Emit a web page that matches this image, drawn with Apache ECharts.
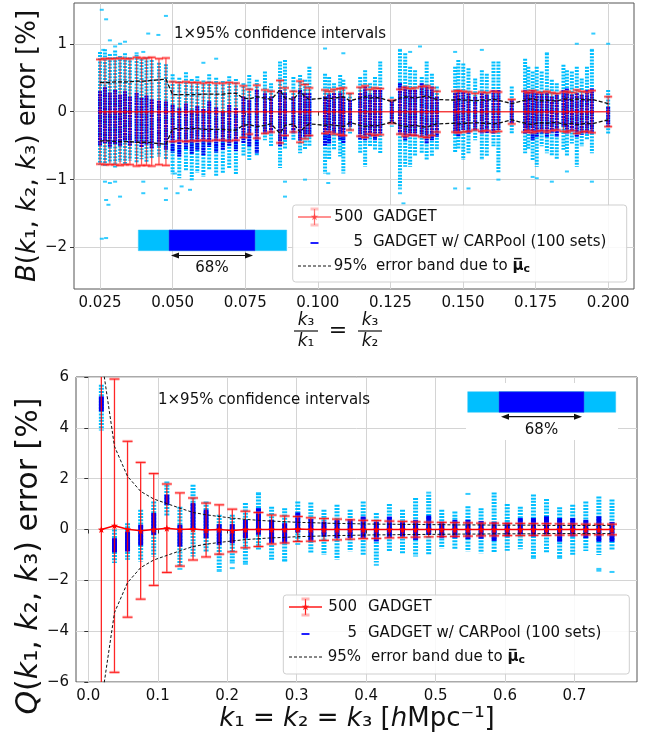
<!DOCTYPE html>
<html><head><meta charset="utf-8">
<script src="https://cdn.jsdelivr.net/npm/echarts@6/dist/echarts.min.js"></script>
<style>html,body{margin:0;padding:0;background:#fff}#c{width:649px;height:739px}</style>
</head><body><div id="c"></div>
<script>
// ---------------- TOP PANEL DATA (B error, %) ----------------
const topX = [0.0250,0.0267,0.0284,0.0302,0.0319,0.0336,0.0353,0.0376,0.0393,0.0410,0.0428,0.0453,0.0477,
 0.0500,0.0523,0.0546,0.0566,0.0585,0.0606,0.0626,0.0650,0.0673,0.0695,0.0718,
 0.0744,0.0764,0.0790,0.0818,0.0839,0.0870,0.0887,0.0916,0.0939,0.0956,0.0971,
 0.1025,0.1039,0.1056,0.1077,0.1088,0.1111,0.1146,0.1163,0.1180,0.1197,0.1215,0.1255,
 0.1283,0.1301,0.1318,0.1335,0.1358,0.1375,0.1393,0.1410,
 0.1473,0.1484,0.1501,0.1519,0.1542,0.1565,0.1582,0.1605,0.1622,0.1668,
 0.1714,0.1725,0.1740,0.1754,0.1771,0.1789,0.1806,0.1823,0.1846,0.1858,0.1875,0.1892,0.1909,0.1927,0.1944,0.2000];
const topHi95 = [0.88,0.92,0.85,0.90,0.82,0.86,0.80,0.84,0.78,0.80,0.76,0.72,0.70,
 0.55,0.50,0.58,0.48,0.52,0.46,0.55,0.50,0.45,0.52,0.48,
 0.42,0.54,0.47,0.59,0.42,0.74,0.76,0.51,0.54,0.47,0.66,
 0.56,0.51,0.42,0.54,0.47,0.27,0.51,0.61,0.42,0.51,0.74,0.22,
 0.91,0.86,0.66,0.61,0.51,0.74,0.56,0.37,
 0.66,0.76,0.71,0.64,0.49,0.61,0.56,0.74,0.74,0.37,
 0.78,0.66,0.59,0.66,0.59,0.86,0.47,0.42,0.69,0.61,0.59,0.66,0.49,0.66,0.91,0.32];
const topLo95 = [-0.78,-0.80,-0.76,-0.82,-0.74,-0.78,-0.72,-0.76,-0.70,-0.74,-0.68,-0.66,-0.70,
 -0.92,-0.98,-0.88,-1.02,-0.90,-0.96,-0.86,-0.95,-0.90,-0.84,-0.92,
 -0.66,-0.71,-0.66,-0.42,-0.51,-0.83,-0.56,-0.42,-0.61,-0.56,-0.51,
 -0.91,-0.71,-0.56,-0.66,-0.91,-0.32,-0.61,-0.81,-0.51,-0.56,-0.61,-0.22,
 -1.10,-0.81,-0.81,-0.66,-0.61,-0.71,-0.66,-0.56,
 -0.61,-0.56,-0.71,-0.61,-0.42,-0.71,-0.66,-0.51,-0.91,-0.32,
 -0.61,-0.56,-0.71,-0.81,-0.51,-0.61,-0.66,-0.71,-0.56,-0.66,-0.47,-0.81,-0.51,-0.42,-0.61,-0.32];
const topHi68 = [0.30,0.36,0.28,0.32,0.25,0.30,0.22,0.28,0.20,0.24,0.18,0.16,0.15,
 0.10,0.05,0.12,0.02,0.08,0.04,0.15,0.06,0.00,0.10,0.05,
 0.22,0.17,0.32,0.27,0.22,0.32,0.27,0.22,0.32,0.27,0.27,
 0.22,0.25,0.27,0.27,0.22,0.17,0.27,0.37,0.25,0.32,0.32,0.15,
 0.42,0.37,0.32,0.32,0.42,0.37,0.37,0.22,
 0.27,0.32,0.29,0.27,0.22,0.27,0.25,0.32,0.32,0.17,
 0.32,0.29,0.32,0.27,0.27,0.27,0.22,0.25,0.32,0.34,0.25,0.27,0.25,0.32,0.34,0.07];
const topLo68 = [-0.50,-0.46,-0.52,-0.48,-0.50,-0.44,-0.50,-0.46,-0.52,-0.48,-0.54,-0.50,-0.56,
 -0.60,-0.66,-0.55,-0.62,-0.58,-0.64,-0.52,-0.60,-0.56,-0.50,-0.58,
 -0.47,-0.51,-0.61,-0.32,-0.32,-0.51,-0.42,-0.32,-0.42,-0.37,-0.37,
 -0.51,-0.47,-0.32,-0.42,-0.47,-0.22,-0.42,-0.42,-0.37,-0.42,-0.32,-0.15,
 -0.32,-0.42,-0.37,-0.37,-0.37,-0.47,-0.42,-0.37,
 -0.32,-0.37,-0.27,-0.32,-0.27,-0.32,-0.32,-0.32,-0.27,-0.17,
 -0.32,-0.32,-0.42,-0.37,-0.32,-0.37,-0.32,-0.37,-0.22,-0.32,-0.29,-0.37,-0.34,-0.32,-0.32,-0.22];
const topMean = [0,0,0,0,0,0,0,0,0,0,0,0,0, 0,0,0,0,0,0,0,0,0,0,0, 0,0,0,0,0,0,0,0,0,0,0,
 0,0,0,0,0,0,0,0,0,0,0,0, 0,0,0,0,0,0,0,0, 0,0,0,0,0,0,0,0,0,0, 0,0,0,0,0,0,0,0,0,0,0,0,0,0,0,0];
const topErr = [0.77,0.78,0.78,0.78,0.79,0.78,0.78,0.80,0.79,0.79,0.80,0.78,0.79,
 0.44,0.43,0.44,0.43,0.43,0.42,0.43,0.42,0.42,0.43,0.42,
 0.38,0.33,0.39,0.32,0.30,0.46,0.35,0.30,0.45,0.40,0.35,
 0.32,0.30,0.33,0.34,0.35,0.27,0.36,0.38,0.33,0.35,0.34,0.17,
 0.33,0.36,0.34,0.35,0.37,0.38,0.35,0.30,
 0.30,0.31,0.30,0.29,0.27,0.29,0.28,0.30,0.29,0.18,
 0.30,0.28,0.31,0.29,0.28,0.30,0.28,0.27,0.29,0.30,0.28,0.32,0.30,0.29,0.31,0.22];
const topBand = [0.43,0.43,0.43,0.44,0.44,0.44,0.44,0.45,0.45,0.45,0.46,0.47,0.48,
 0.25,0.25,0.25,0.25,0.25,0.26,0.26,0.26,0.26,0.27,0.27,
 0.20,0.19,0.22,0.20,0.18,0.32,0.20,0.18,0.30,0.22,0.18,
 0.20,0.19,0.20,0.21,0.22,0.16,0.20,0.22,0.20,0.21,0.20,0.15,
 0.20,0.22,0.21,0.20,0.22,0.23,0.20,0.18,
 0.17,0.18,0.17,0.17,0.16,0.17,0.17,0.18,0.17,0.12,
 0.17,0.18,0.19,0.17,0.16,0.17,0.16,0.16,0.18,0.19,0.17,0.19,0.18,0.17,0.18,0.12];
const topOutX = [0.0256,0.0271,0.0477,0.0451,0.0416,0.0336,0.0302,0.0261,0.0399,0.0376,0.0284,0.0319,
 0.0267,0.0284,0.0302,0.0399,0.0271,0.0279,0.0319,0.0399,0.0477,0.0477,0.0271,0.0256,0.0508,0.0517,0.0531,0.0560,
 0.1025,0.1036,0.1036,0.1283,0.1318,0.1283,0.1295,0.0956,0.0887,0.0887,0.1088,0.1352,0.1283,
 0.1949,0.2000,0.1892,0.1944,0.1565,0.1473,0.1789,0.1473,0.1519,0.1740,0.1806,0.1944,0.1622,0.1858,0.1754,0.0650,0.0606];
const topOutY = [1.50,1.36,1.41,1.13,1.15,1.03,0.96,0.91,0.88,0.86,1.05,1.00,
 -1.03,-1.05,-1.03,-1.03,-1.30,-1.37,-1.25,-1.20,-1.13,-1.30,-1.86,-1.87,-0.91,-1.20,-1.10,-1.15,
 0.93,-0.91,-1.05,0.91,0.88,-1.13,-1.35,-1.00,-1.03,-1.25,0.86,0.96,-1.20,
 1.15,1.00,1.00,0.91,0.91,0.88,0.86,-1.13,-1.13,-0.96,-1.03,-1.03,-1.00,-0.88,-0.98,0.78,0.72];
const topTicksX = [0.025,0.050,0.075,0.100,0.125,0.150,0.175,0.200];
const topTicksY = [-2,-1,0,1];

// ---------------- BOTTOM PANEL DATA (Q error, %) ----------------
const botK = [0.0188,0.0377,0.0565,0.0754,0.0942,0.1131,0.1319,0.1508,0.1696,0.1885,0.2073,0.2262,0.2450,0.2639,0.2827,0.3016,0.3204,0.3393,0.3581,0.3770,
 0.3958,0.4147,0.4335,0.4524,0.4712,0.4901,0.5089,0.5278,0.5466,0.5655,0.5843,0.6032,0.6220,0.6409,0.6597,0.6786,0.6974,0.7163,0.7351,0.7540];
const botHi95 = [5.70,0.00,0.25,0.78,1.10,1.89,0.90,1.76,1.10,0.58,0.58,1.04,1.43,0.90,0.84,1.10,1.06,0.78,0.97,0.78,
 1.10,0.65,1.00,0.78,1.24,1.37,0.78,0.71,0.91,0.84,1.46,1.00,0.90,1.38,1.20,0.88,0.97,1.10,1.30,1.18];
const botLo95 = [3.90,-1.32,-1.19,-1.26,-1.06,0.51,-1.46,-1.06,-0.87,-1.59,-1.26,-1.32,-0.80,-1.19,-1.26,-0.60,-0.93,-1.00,-1.19,-0.87,
 -1.00,-1.30,-0.87,-0.93,-1.06,-1.00,-0.74,-0.80,-0.87,-0.93,-0.90,-0.84,-0.78,-1.10,-0.93,-1.10,-1.00,-0.85,-1.00,-0.80];
const botHi68 = [5.24,-0.34,-0.08,0.19,0.65,1.37,0.19,1.04,0.78,0.21,0.21,0.38,0.84,0.38,0.25,0.67,0.42,0.31,0.38,0.40,
 0.51,0.31,0.51,0.31,0.38,0.55,0.31,0.38,0.38,0.34,0.30,0.28,0.45,0.45,0.52,0.45,0.45,0.38,0.52,0.30];
const botLo68 = [4.65,-0.90,-0.87,-0.63,-0.21,0.97,-0.67,-0.01,-0.34,-0.60,-0.54,-0.34,-0.21,-0.54,-0.54,-0.12,-0.45,-0.28,-0.34,-0.34,
 -0.34,-0.47,-0.34,-0.28,-0.41,-0.21,-0.34,-0.34,-0.38,-0.36,-0.45,-0.28,-0.20,-0.28,-0.20,-0.48,-0.28,-0.34,-0.48,-0.48];
const botMean = [0.00,0.15,0.01,-0.05,0.00,0.05,0.00,0.02,-0.02,0.00,-0.04,0.00,0.00,0.00,0.00,0.02,0.00,0.00,0.00,0.00,
 0.00,0.00,0.00,0.00,0.00,0.00,0.00,0.00,0.00,0.00,0.00,0.00,0.00,0.00,0.00,0.00,0.00,0.00,0.00,0.00];
const botErr = [9.0,5.77,3.46,2.69,2.20,1.74,1.44,1.22,1.06,0.97,0.84,0.72,0.67,0.57,0.53,0.49,0.46,0.43,0.41,0.38,
 0.36,0.35,0.33,0.32,0.30,0.29,0.28,0.27,0.26,0.25,0.25,0.24,0.24,0.23,0.23,0.22,0.22,0.21,0.21,0.21];
const botBand = [6.8,3.27,2.09,1.50,1.20,1.02,0.84,0.67,0.58,0.51,0.45,0.40,0.36,0.33,0.31,0.28,0.27,0.25,0.24,0.23,
 0.22,0.21,0.21,0.20,0.20,0.19,0.19,0.18,0.18,0.18,0.17,0.17,0.17,0.17,0.16,0.16,0.16,0.16,0.16,0.16];
const botOutX = [0.2073,0.1885,0.2262,0.2827,0.4147,0.7351,0.7351,0.7540,0.6409,0.6786,0.4901,0.5466,0.2450,0.1319,0.2073];
const botOutY = [-1.52,-1.63,-1.35,-1.22,-1.39,-1.55,-1.62,-1.67,-1.12,-1.12,1.45,1.40,1.43,-1.55,-1.30];
const botTicksX = [0.0,0.1,0.2,0.3,0.4,0.5,0.6,0.7];
const botTicksY = [-6,-4,-2,0,2,4,6];

// ---------------- RENDERING ----------------
const FONT = 'DejaVu Sans';
const LIGHT = '#00bfff', DARK = '#0000f0';
const chart = echarts.init(document.getElementById('c'));
const fmtMinus = s => String(s).replace('-', '\u2212');

function colItem(color, w, dash) {
  return function (params, api) {
    const x = api.value(0);
    const a = api.coord([x, api.value(2)]), b = api.coord([x, api.value(1)]);
    return {type: 'line', shape: {x1: a[0], y1: a[1], x2: b[0], y2: b[1]},
      style: {stroke: color, lineWidth: w, lineDash: dash || null}};
  };
}
function errItem(capW, lineColor, capColor, lw) {
  return function (params, api) {
    const x = api.value(0), m = api.value(1), e = api.value(2);
    const a = api.coord([x, m + e]), b = api.coord([x, m - e]);
    const h = capW / 2;
    return {type: 'group', children: [
      {type: 'line', shape: {x1: a[0], y1: a[1], x2: b[0], y2: b[1]}, style: {stroke: lineColor, lineWidth: lw}},
      {type: 'line', shape: {x1: a[0] - h, y1: a[1], x2: a[0] + h, y2: a[1]}, style: {stroke: capColor, lineWidth: 3}},
      {type: 'line', shape: {x1: b[0] - h, y1: b[1], x2: b[0] + h, y2: b[1]}, style: {stroke: capColor, lineWidth: 3}},
      {type: 'line', shape: {x1: a[0] - h, y1: a[1], x2: a[0] + h, y2: a[1]}, style: {stroke: lineColor, lineWidth: 1}},
      {type: 'line', shape: {x1: b[0] - h, y1: b[1], x2: b[0] + h, y2: b[1]}, style: {stroke: lineColor, lineWidth: 1}}
    ]};
  };
}
const STAR = 'path://M0,-10L2.35,-3.24L9.51,-3.09L3.8,1.24L5.88,8.09L0,4L-5.88,8.09L-3.8,1.24L-9.51,-3.09L-2.35,-3.24Z';

function axisX(grid, min, max, ticks, dec) {
  return {type: 'value', gridIndex: grid, min: min, max: max,
    axisLine: {show: false},
    axisTick: {show: true, length: 4, customValues: ticks, lineStyle: {color: '#333'}},
    axisLabel: {customValues: ticks, formatter: v => v.toFixed(dec), fontFamily: FONT, fontSize: 15, color: '#111', margin: 7},
    splitLine: {show: true, lineStyle: {color: '#d4d4d4', width: 1}}};
}
function axisY(grid, min, max, ticks) {
  return {type: 'value', gridIndex: grid, min: min, max: max,
    axisLine: {show: false},
    axisTick: {show: true, length: 4, customValues: ticks, lineStyle: {color: '#333'}},
    axisLabel: {customValues: ticks, formatter: v => fmtMinus(v), fontFamily: FONT, fontSize: 15, color: '#111', margin: 7},
    splitLine: {show: true, lineStyle: {color: '#d4d4d4', width: 1}}};
}

const zip3 = (x, a, b) => x.map((v, i) => [v, a[i], b[i]]);

const series = [
  // top
  {type: 'custom', xAxisIndex: 0, yAxisIndex: 0, clip: true, z: 2, renderItem: colItem(LIGHT, 4, [2, 1.2]), data: zip3(topX, topLo95, topHi95), encode: {x: 0, y: [1, 2]}},
  {type: 'scatter', xAxisIndex: 0, yAxisIndex: 0, z: 2, symbol: 'rect', symbolSize: [4, 2], itemStyle: {color: LIGHT}, data: topOutX.map((v, i) => [v, topOutY[i]])},
  {type: 'custom', xAxisIndex: 0, yAxisIndex: 0, clip: true, z: 3, renderItem: colItem(DARK, 4, [2, 0.6]), data: zip3(topX, topLo68, topHi68), encode: {x: 0, y: [1, 2]}},
  {type: 'custom', xAxisIndex: 0, yAxisIndex: 0, clip: true, z: 4, renderItem: errItem(8, 'rgba(255,0,0,0.65)', 'rgba(255,80,80,0.5)', 1.3), data: zip3(topX, topMean, topErr), encode: {x: 0, y: 1}},
  {type: 'line', xAxisIndex: 0, yAxisIndex: 0, z: 5, symbol: STAR, symbolSize: 5, showSymbol: true, itemStyle: {color: 'rgba(255,0,0,0.6)'}, lineStyle: {color: 'rgba(255,0,0,0.7)', width: 1.5}, data: topX.map((v, i) => [v, topMean[i]])},
  {type: 'line', xAxisIndex: 0, yAxisIndex: 0, z: 6, symbol: 'none', lineStyle: {color: '#111', width: 1.3, type: [4, 2]}, data: topX.map((v, i) => [v, topBand[i]])},
  {type: 'line', xAxisIndex: 0, yAxisIndex: 0, z: 6, symbol: 'none', lineStyle: {color: '#111', width: 1.3, type: [4, 2]}, data: topX.map((v, i) => [v, -topBand[i]])},
  // bottom
  {type: 'custom', xAxisIndex: 1, yAxisIndex: 1, clip: true, z: 2, renderItem: colItem(LIGHT, 5, [2, 1.2]), data: zip3(botK, botLo95, botHi95), encode: {x: 0, y: [1, 2]}},
  {type: 'scatter', xAxisIndex: 1, yAxisIndex: 1, z: 2, symbol: 'rect', symbolSize: [5, 2], itemStyle: {color: LIGHT}, data: botOutX.map((v, i) => [v, botOutY[i]])},
  {type: 'custom', xAxisIndex: 1, yAxisIndex: 1, clip: true, z: 3, renderItem: colItem(DARK, 5), data: zip3(botK, botLo68, botHi68), encode: {x: 0, y: [1, 2]}},
  {type: 'custom', xAxisIndex: 1, yAxisIndex: 1, clip: true, z: 4, renderItem: errItem(10, 'rgba(255,0,0,0.85)', 'rgba(255,90,90,0.45)', 1.3), data: zip3(botK, botMean, botErr), encode: {x: 0, y: 1}},
  {type: 'line', xAxisIndex: 1, yAxisIndex: 1, z: 5, symbol: STAR, symbolSize: 7, itemStyle: {color: '#ff0000'}, lineStyle: {color: '#ff0000', width: 1.5}, data: botK.map((v, i) => [v, botMean[i]])},
  {type: 'line', xAxisIndex: 1, yAxisIndex: 1, z: 6, symbol: 'none', lineStyle: {color: '#111', width: 1, type: [3, 2]}, data: botK.map((v, i) => [v, botBand[i]])},
  {type: 'line', xAxisIndex: 1, yAxisIndex: 1, z: 6, symbol: 'none', lineStyle: {color: '#111', width: 1, type: [3, 2]}, data: botK.map((v, i) => [v, -botBand[i]])}
];

// --------- decorations (text, legends, insets) ---------
const G = [];
const T = (x, y, text, o) => G.push(Object.assign({type: 'text', x: x, y: y, z: 100,
  style: Object.assign({text: text, fontFamily: FONT, fontSize: 15, fill: '#111', align: 'left', verticalAlign: 'middle'}, (o && o.style) || {})},
  o && o.rotation ? {rotation: o.rotation} : {}));
const L = (x1, y1, x2, y2, st) => G.push({type: 'line', z: 100, shape: {x1: x1, y1: y1, x2: x2, y2: y2}, style: st});
const R = (x, y, w, h, st, z) => G.push({type: 'rect', z: z || 100, shape: {x: x, y: y, width: w, height: h}, style: st});
function star(cx, cy, r, fill) {
  const pts = [];
  for (let k = 0; k < 10; k++) {
    const a = -Math.PI / 2 + k * Math.PI / 5, rr = k % 2 ? r * 0.4 : r;
    pts.push([cx + rr * Math.cos(a), cy + rr * Math.sin(a)]);
  }
  G.push({type: 'polygon', z: 101, shape: {points: pts}, style: {fill: fill}});
}
function arrow(x1, x2, y) {
  L(x1 + 3, y, x2 - 3, y, {stroke: '#111', lineWidth: 1.2});
  G.push({type: 'polygon', z: 100, shape: {points: [[x1, y], [x1 + 8, y - 3], [x1 + 8, y + 3]]}, style: {fill: '#111'}});
  G.push({type: 'polygon', z: 100, shape: {points: [[x2, y], [x2 - 8, y - 3], [x2 - 8, y + 3]]}, style: {fill: '#111'}});
}
function inset(x0, x1, xa, xb, y, h, ay, ty) {
  R(x0, y, x1 - x0, h, {fill: LIGHT, stroke: '#39c6f5', lineWidth: 0.5});
  R(xa, y, xb - xa, h, {fill: '#0000ff', stroke: '#3a5ad9', lineWidth: 0.5});
  arrow(xa + 2, xb - 2, ay);
  T((xa + xb) / 2, ty, '68%', {style: {align: 'center'}});
}
const mu = {rich: {b: {fontFamily: FONT, fontSize: 15, fontWeight: 'bold', fill: '#111'}, s: {fontFamily: FONT, fontSize: 11, fontWeight: 'bold', fill: '#111', padding: [7, 0, 0, 0]}}};
function legend(bx, by, bw, bh, rows, iconX, numR, txtX, redCol, capCol) {
  R(bx, by, bw, bh, {fill: 'rgba(255,255,255,0.85)', stroke: '#cfcfcf', lineWidth: 1}, 99);
  G[G.length - 1].shape.r = 3;
  const [y1, y2, y3] = rows;
  const cx = (iconX[0] + iconX[1]) / 2;
  L(iconX[0], y1, iconX[1], y1, {stroke: redCol, lineWidth: 1.5});
  L(cx, y1 - 8, cx, y1 + 8, {stroke: redCol, lineWidth: 1.2});
  L(cx - 4, y1 - 8, cx + 4, y1 - 8, {stroke: capCol, lineWidth: 3});
  L(cx - 4, y1 + 8, cx + 4, y1 + 8, {stroke: capCol, lineWidth: 3});
  star(cx, y1, 4, redCol);
  L(cx - 4, y2 + 1, cx + 4, y2 + 1, {stroke: '#2020ff', lineWidth: 2});
  L(iconX[0], y3, iconX[1], y3, {stroke: '#111', lineWidth: 1, lineDash: [3, 2]});
  T(numR, y1, '500', {style: {align: 'right'}});
  T(numR, y2, '5', {style: {align: 'right'}});
  T(numR + 4, y3, '95%', {style: {align: 'right'}});
  T(txtX, y1, 'GADGET');
  T(txtX, y2, 'GADGET w/ CARPool (100 sets)');
  G.push({type: 'text', x: txtX + 3, y: y3, z: 100, style: {text: 'error band due to {b|\u03bc\u0305}{s|c}', rich: mu.rich, fontFamily: FONT, fontSize: 15, fill: '#111', align: 'left', verticalAlign: 'middle'}});
}
const rich = (fs) => ({i: {fontFamily: FONT, fontSize: fs, fontStyle: 'italic', fill: '#111'}, n: {fontFamily: FONT, fontSize: fs, fill: '#111'}});

// top panel decorations
T(174, 34, '1\u00d795% confidence intervals');
R(138, 229, 150, 22, {fill: '#fff'}, 99);
inset(138.3, 286.7, 169, 255, 230, 20.7, 255.5, 268.5);
legend(292.7, 205, 334, 77, [217, 242, 266], [298, 331], 363, 373, 'rgba(255,60,60,0.75)', 'rgba(255,120,120,0.45)');
G.push({type: 'text', x: 28, y: 146, rotation: Math.PI / 2, z: 100,
  style: {text: '{i|B}{n|(}{i|k}{n|\u2081, }{i|k}{n|\u2082, }{i|k}{n|\u2083) error [%]}', rich: rich(26), fontFamily: FONT, fontSize: 26, fill: '#111', align: 'center', verticalAlign: 'middle'}});
// fraction x label
G.push({type: 'text', x: 306, y: 321, z: 100, style: {text: '{i|k}{n|\u2083}', rich: rich(17), align: 'center', verticalAlign: 'middle'}});
L(294, 331, 318, 331, {stroke: '#111', lineWidth: 1.2});
G.push({type: 'text', x: 306, y: 342, z: 100, style: {text: '{i|k}{n|\u2081}', rich: rich(17), align: 'center', verticalAlign: 'middle'}});
T(338, 331, '=', {style: {align: 'center', fontSize: 22}});
G.push({type: 'text', x: 370, y: 321, z: 100, style: {text: '{i|k}{n|\u2083}', rich: rich(17), align: 'center', verticalAlign: 'middle'}});
L(358, 331, 382, 331, {stroke: '#111', lineWidth: 1.2});
G.push({type: 'text', x: 370, y: 342, z: 100, style: {text: '{i|k}{n|\u2082}', rich: rich(17), align: 'center', verticalAlign: 'middle'}});

// bottom panel decorations
T(158, 400, '1\u00d795% confidence intervals');
R(466, 383, 152, 57, {fill: '#fff'}, 99);
inset(467.7, 615.7, 499, 584, 391.7, 20.6, 416.7, 430);
legend(283.3, 595, 346, 79, [607, 633, 657], [289, 322], 357, 368, '#ff1a1a', 'rgba(255,110,110,0.5)');
G.push({type: 'text', x: 29, y: 556, rotation: Math.PI / 2, z: 100,
  style: {text: '{i|Q}{n|(}{i|k}{n|\u2081, }{i|k}{n|\u2082, }{i|k}{n|\u2083) error [%]}', rich: rich(30), fontFamily: FONT, fontSize: 30, fill: '#111', align: 'center', verticalAlign: 'middle'}});
G.push({type: 'text', x: 357, y: 719, z: 100,
  style: {text: '{i|k}{n|\u2081 = }{i|k}{n|\u2082 = }{i|k}{n|\u2083 [}{i|h}{n|Mpc\u207b\u00b9]}', rich: rich(26), fontFamily: FONT, fontSize: 26, fill: '#111', align: 'center', verticalAlign: 'middle'}});

chart.setOption({
  animation: false,
  backgroundColor: '#fff',
  grid: [
    {left: 74, top: 3, width: 560, height: 286, show: true, borderColor: '#555', borderWidth: 1, backgroundColor: 'transparent'},
    {left: 76, top: 377, width: 561, height: 305, show: true, borderColor: '#555', borderWidth: 1, backgroundColor: 'transparent'}
  ],
  xAxis: [axisX(0, 0.01604, 0.2089, topTicksX, 3), axisX(1, -0.0177, 0.790, botTicksX, 1)],
  yAxis: [axisY(0, -2.61, 1.6, topTicksY), axisY(1, -6, 6, botTicksY)],
  series: series,
  graphic: {elements: G}
});
</script>
</body></html>
